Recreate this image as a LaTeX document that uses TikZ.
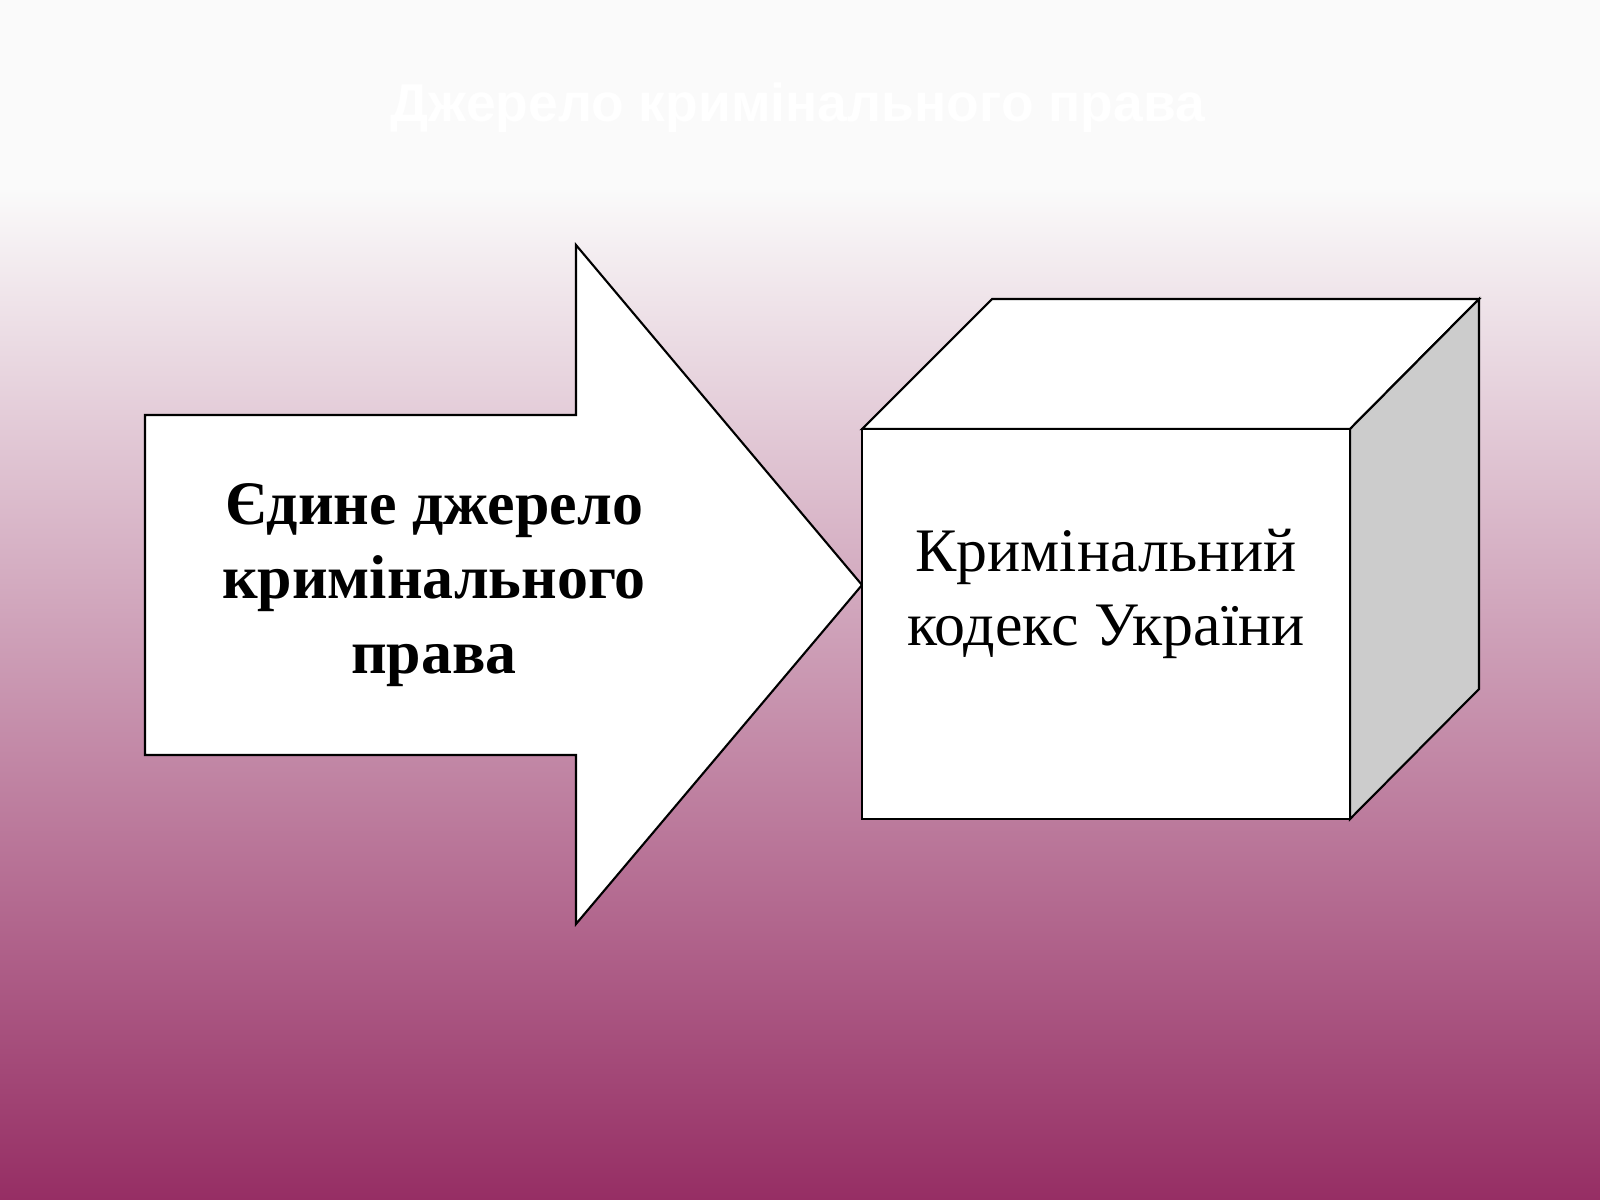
\documentclass[tikz,border=0pt]{standalone}
\usepackage{fontspec}
\setmainfont{Liberation Serif}
\newfontfamily\titlefont{Liberation Sans}
\usepackage{tikz}
\usetikzlibrary{positioning, calc}
\definecolor{bgpurple}{RGB}{150,46,100}
\definecolor{sidegray}{RGB}{204,204,204}
\tikzset{outline/.style={draw=black,line width=0.6pt,line join=miter},
         face/.style={outline,fill=white},
         sideface/.style={outline,fill=sidegray},
         label/.style={align=center,font=\fontsize{17.6}{21.1}\selectfont,inner sep=0pt},
         headline/.style={font=\titlefont\bfseries\fontsize{15.2}{18}\selectfont,text=white,inner sep=0pt}}

\begin{document}
\begin{tikzpicture}[x=0.01cm,y=-0.01cm]
    \useasboundingbox (0,0) rectangle (1600,1200);
    % background
    \fill[white!98!black] (0,0) rectangle (1600,190);
    \shade[top color=white!98!black, bottom color=bgpurple] (0,190) rectangle (1600,1200);
    \node (title) [headline] at (798,108) {Джерело кримінального права};
    % arrow
    \draw[face] (145,415) -- (576,415) -- (576,245) -- (862,585) -- (576,924) -- (576,755) -- (145,755) -- cycle;
    \node (source) [label, font=\fontsize{17.6}{21.1}\selectfont\bfseries] at (434,585) {Єдине джерело\\кримінального\\права};
    % box
    \draw[face] (862,429) -- (992,299) -- (1479,299) -- (1350,429) -- cycle;
    \draw[sideface] (1350,429) -- (1479,299) -- (1479,689) -- (1350,819) -- cycle;
    \draw[face] (862,429) rectangle (1350,819);
    \node (code) [label] at (1106,594) {Кримінальний\\кодекс України};
\end{tikzpicture}
\end{document}
